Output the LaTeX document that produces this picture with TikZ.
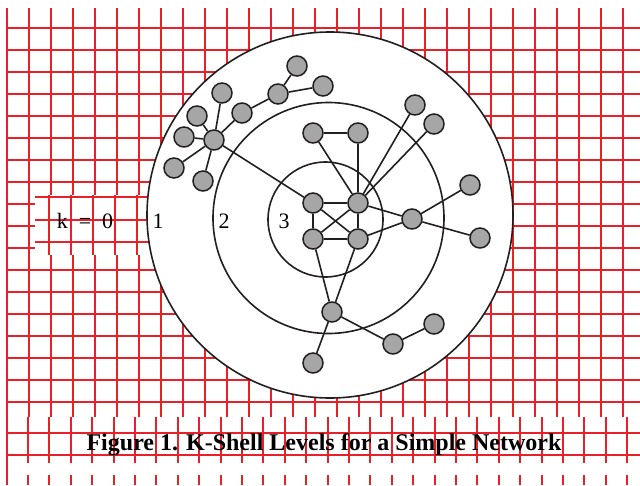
\documentclass[tikz,border=0pt]{standalone}
\usepackage{fontspec}
\setmainfont{Liberation Serif}
\usetikzlibrary{positioning}
\definecolor{gridred}{RGB}{232,33,40}
\definecolor{ink}{RGB}{35,31,32}
\definecolor{dot}{RGB}{166,166,166}

\begin{document}
\begin{tikzpicture}[x=1pt,y=-1pt,
  grid/.style={draw=gridred,line width=2pt},
  shell/.style={draw=ink,line width=1.6pt},
  nd/.style={circle,draw=ink,fill=dot,line width=1.5pt,
             minimum size=20pt,inner sep=0pt},
  lk/.style={draw=ink,line width=1.6pt},
  lbl/.style={font=\fontsize{22}{22}\selectfont,inner sep=0pt,anchor=base},
  title/.style={font=\fontsize{24}{24}\selectfont\bfseries,inner sep=0pt,anchor=base}]
  \useasboundingbox (0,0) rectangle (640,485);
  % background grid
  \foreach \x in {29,51,...,623} \draw[grid] (\x,8) -- (\x,417);
  \foreach \y in {28,50,...,402} \draw[grid] (7,\y) -- (640,\y);
  % k box
  \fill[white] (35,195) rectangle (160,255);
  \foreach \x in {49,71,93,115,137} \draw[grid] (\x,195) -- (\x,255);
  \foreach \y in {197,220,242} \draw[grid] (35,\y) -- (160,\y);
  % caption band
  \fill[white] (8,417) rectangle (640,485);
  \foreach \i in {0,...,28} {
    \draw[grid] (28+21.4*\i,417) -- (28+21.4*\i,463);
    \draw[grid] (28+21.4*\i,475) -- (28+21.4*\i,485);
  }
  \foreach \y in {433,455} \draw[grid] (7,\y) -- (640,\y);
  \draw[grid] (7,8) -- (7,485);
  % shells
  \draw[shell,fill=white] (330,215) circle (183);
  \draw[shell] (328.5,218) circle (115.5);
  \draw[shell] (325.5,219.5) circle (57.5);
  % nodes
  \node[nd] (hub) at (214,140) {};
  \node[nd] (a1) at (197,116) {};
  \node[nd] (a2) at (184,137) {};
  \node[nd] (a3) at (174,168) {};
  \node[nd] (a4) at (203,181) {};
  \node[nd] (a5) at (222,93) {};
  \node[nd] (a6) at (242,113) {};
  \node[nd] (a7) at (278,94) {};
  \node[nd] (a8) at (297,66) {};
  \node[nd] (a9) at (323,86) {};
  \node[nd] (b1) at (313,133) {};
  \node[nd] (b2) at (358,133) {};
  \node[nd] (c1) at (313,203) {};
  \node[nd] (c2) at (358,203) {};
  \node[nd] (c3) at (313,239) {};
  \node[nd] (c4) at (358,239) {};
  \node[nd] (b3) at (415,105) {};
  \node[nd] (b4) at (434,124) {};
  \node[nd] (b5) at (412,219) {};
  \node[nd] (a10) at (470,185) {};
  \node[nd] (a11) at (480,238) {};
  \node[nd] (b6) at (332,312) {};
  \node[nd] (a12) at (393,344) {};
  \node[nd] (a13) at (434,324) {};
  \node[nd] (a14) at (313,363) {};
  % links
  \foreach \u/\v in {hub/a1,hub/a2,hub/a3,hub/a4,hub/a5,hub/a6,a6/a7,a7/a8,
    a7/a9,hub/c1,b1/b2,b1/c2,b2/c2,c2/b3,c2/b4,c1/c2,c1/c3,c2/c4,c3/c4,
    c1/c4,c2/c3,c2/b5,c4/b5,b5/a10,b5/a11,c3/b6,c4/b6,b6/a12,a12/a13,b6/a14}
    \draw[lk] (\u) -- (\v);
  % labels
  \node[lbl] (k0) at (85,228) {k\enspace=\enspace0};
  \node[lbl] (k1) at (158,228) {1};
  \node[lbl] (k2) at (224,228) {2};
  \node[lbl] (k3) at (284,228) {3};
  \node[title] (fig) at (324,450) {Figure 1. K-Shell Levels for a Simple Network};
\end{tikzpicture}
\end{document}
